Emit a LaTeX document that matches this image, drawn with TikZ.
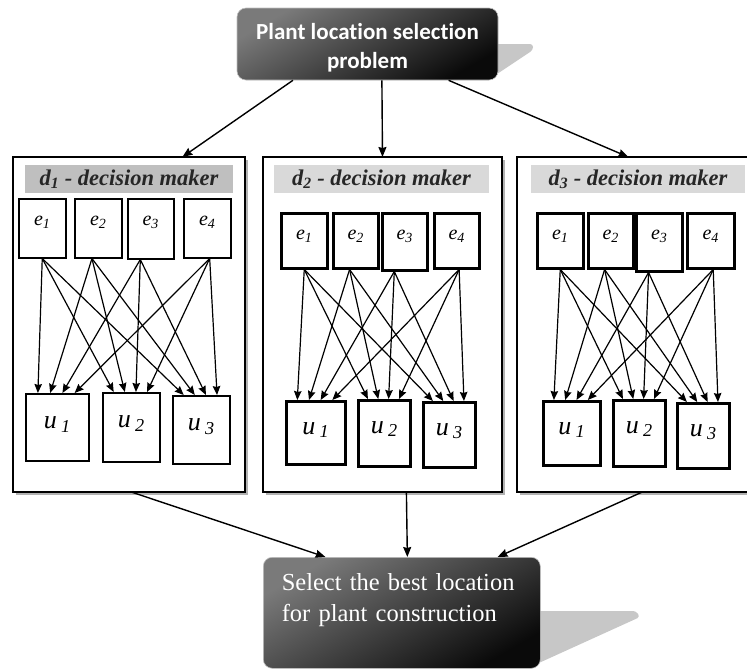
\documentclass[tikz,border=0pt]{standalone}
\usepackage{fontspec}
\setmainfont{Liberation Serif}
\newfontfamily\calib[Ligatures=NoCommon]{Carlito}
\usetikzlibrary{arrows.meta,calc,shadows}
\newcommand\mkbox[8]{%
  \pgfmathsetmacro\bxw{#4-#2}\pgfmathsetmacro\bxh{#5-#3}\pgfmathsetmacro\bxd{#5-#3-#6}%
  \node[#7, anchor=north west, minimum width=\bxw pt, minimum height=\bxh pt,
        text height=#6pt, text depth=\bxd pt] (#1) at (#2,#3) {#8};}
\newcommand\elab[1]{\textit{e}\textsubscript{\textit{#1}}}
\newcommand\ulab[1]{\textit{u}\,\textsubscript{\textit{#1}}}
\newcommand\ttl[1]{d\textsubscript{#1} - decision maker}
\begin{document}
\begin{tikzpicture}[x=1pt,y=-1pt,
  panel/.style={draw=black, line width=1.8pt, fill=white, inner sep=0pt, outer sep=0pt,
    drop shadow={shadow xshift=3pt, shadow yshift=-3pt, fill=black!30, opacity=1}},
  tbar/.style={draw=none, inner sep=0pt, text=black!85,
    font=\fontsize{22.5}{24}\selectfont\bfseries\itshape},
  bxthin/.style={draw=black, line width=1.5pt, fill=white, inner sep=0pt},
  bxthick/.style={draw=black, line width=2.5pt, fill=white, inner sep=0pt},
  efont/.style={font=\fontsize{20}{22}\selectfont},
  ufont/.style={font=\fontsize{26}{28}\selectfont},
  arr/.style={line width=1.2pt, -{Stealth[length=9pt,width=7.5pt,inset=1pt]}},
  bigarr/.style={line width=1.4pt, -{Stealth[length=10pt,width=8pt,inset=1pt]}},
  darkbox/.style={rounded corners=9pt, top color=black!52, bottom color=black!96,
    shading angle=30, draw=black!25, line width=0.6pt, text=white, inner sep=0pt},
  shadowshape/.style={fill=black!22, draw=none, rounded corners=3pt},
]
\useasboundingbox (0,0) rectangle (747,670);

% ---- top box ----
\fill[shadowshape] (488,44) -- (533,44) -- (533,50) -- (488,80) -- cycle;
\node[darkbox, minimum width=261pt, minimum height=72pt,
      font=\calib\bfseries\fontsize{23}{29}\selectfont] (top) at (367.5,44)
      {\raisebox{-10pt}[0pt][0pt]{\begin{tabular}{@{}c@{}}Plant location selection\\problem\end{tabular}}};

% ---- bottom box ----
\fill[shadowshape] (530,611) -- (636,611) -- (640,617) -- (530,667) -- cycle;
\node[darkbox, anchor=north west, minimum width=277pt, minimum height=111pt,
      text width=240pt, align=left, font=\fontsize{24.5}{31}\selectfont] (bot) at (263,557)
      {Select the best location\\for plant construction\\\mbox{}};

% ---- panels ----
\node[panel, anchor=north west, minimum width=232pt, minimum height=335pt] (p1) at (13,157) {};
\node[panel, anchor=north west, minimum width=239pt, minimum height=335pt] (p2) at (263,157) {};
\node[panel, draw=none, anchor=north west, minimum width=232pt, minimum height=335pt] (p3) at (517,157) {};
\draw[line width=1.8pt] (p3.north east) -- (p3.north west) -- (p3.south west) -- (p3.south east);

% ---- title bars ----
\node[tbar, fill=black!25, minimum width=208pt, minimum height=28pt] (t1) at (129,179) {\ttl{1}};
\node[tbar, fill=black!15, minimum width=215pt, minimum height=28pt] (t2) at (381.5,179) {\ttl{2}};
\node[tbar, fill=black!15, minimum width=214pt, minimum height=28pt] (t3) at (638,179) {\ttl{3}};

% ---- panel 1 boxes ----
\mkbox{p1e1}{18}{198}{65}{257}{27}{bxthin,efont}{\elab{1}}
\mkbox{p1e2}{74}{198}{121}{257}{27}{bxthin,efont}{\elab{2}}
\mkbox{p1e3}{127}{198}{173}{258}{27}{bxthin,efont}{\elab{3}}
\mkbox{p1e4}{183}{198}{230}{257}{27}{bxthin,efont}{\elab{4}}
\mkbox{p1u1}{25}{393}{88}{460}{35}{bxthin,ufont}{\ulab{1}}
\mkbox{p1u2}{102}{392}{159}{461}{35}{bxthin,ufont}{\ulab{2}}
\mkbox{p1u3}{172}{395}{229}{463}{35}{bxthin,ufont}{\ulab{3}}

% ---- panel 2 boxes ----
\mkbox{p2e1}{280}{212}{326}{267}{26}{bxthick,efont}{\elab{1}}
\mkbox{p2e2}{332}{212}{377}{267}{26}{bxthick,efont}{\elab{2}}
\mkbox{p2e3}{381}{212}{426}{269}{26}{bxthick,efont}{\elab{3}}
\mkbox{p2e4}{433}{212}{478}{267}{26}{bxthick,efont}{\elab{4}}
\mkbox{p2u1}{285}{400}{344}{463}{33}{bxthick,ufont}{\ulab{1}}
\mkbox{p2u2}{357}{399}{409}{465}{33}{bxthick,ufont}{\ulab{2}}
\mkbox{p2u3}{422}{401}{474}{466}{33}{bxthick,ufont}{\ulab{3}}

% ---- panel 3 boxes ----
\mkbox{p3e1}{536}{212}{582}{267}{26}{bxthick,efont}{\elab{1}}
\mkbox{p3e2}{587}{212}{632}{267}{26}{bxthick,efont}{\elab{2}}
\mkbox{p3e3}{635}{212}{681}{270}{26}{bxthick,efont}{\elab{3}}
\mkbox{p3e4}{686}{212}{733}{267}{26}{bxthick,efont}{\elab{4}}
\mkbox{p3u1}{542}{400}{599}{464}{33}{bxthick,ufont}{\ulab{1}}
\mkbox{p3u2}{612}{399}{664}{465}{33}{bxthick,ufont}{\ulab{2}}
\mkbox{p3u3}{676}{402}{728}{467}{33}{bxthick,ufont}{\ulab{3}}

% ---- e -> u arrows ----
\foreach \p in {1,2,3}{
  \foreach \i/\s in {1/0.5,2/0.37,3/0.28,4/0.55}{
    \foreach \j in {1,2,3}{
      \pgfmathsetmacro\f{0.2+0.19*(\i-1)}
      \draw[arr] ($(p\p e\i.south west)!\s!(p\p e\i.south east)$) --
                 ($(p\p u\j.north west)!\f!(p\p u\j.north east)$);
    }}}

% ---- top arrows ----
\draw[bigarr] ($(top.south west)!.215!(top.south east)$) -- ($(p1.north west)!.73!(p1.north east)$);
\draw[bigarr] ($(top.south west)!.555!(top.south east)$) -- ($(p2.north west)!.5!(p2.north east)$);
\draw[bigarr] ($(top.south west)!.81!(top.south east)$) -- ($(p3.north west)!.48!(p3.north east)$);

% ---- bottom arrows ----
\draw[bigarr] ($(p1.south west)!.51!(p1.south east)$) -- ($(bot.north west)!.225!(bot.north east)$);
\draw[bigarr] ($(p2.south west)!.6!(p2.south east)$) -- ($(bot.north west)!.52!(bot.north east)$);
\draw[bigarr] ($(p3.south west)!.54!(p3.south east)$) -- ($(bot.north west)!.845!(bot.north east)$);
\end{tikzpicture}
\end{document}
